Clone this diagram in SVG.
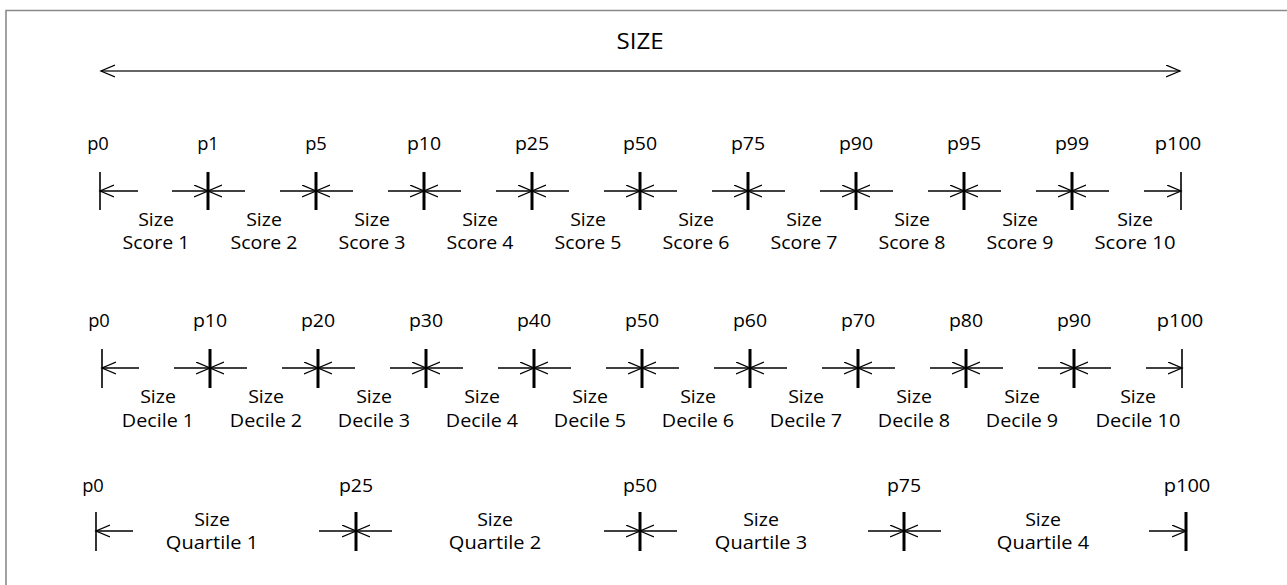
<svg xmlns="http://www.w3.org/2000/svg" width="1287" height="585" viewBox="0 0 1287 585">
<style>
text{font-family:"Open Sans","Liberation Sans",sans-serif;font-size:17.5px;fill:#000;text-anchor:middle}
.title{font-size:21px}
.seg{stroke:#000;stroke-width:1.3;fill:none;marker-end:url(#ah)}
.thin{stroke:#000;stroke-width:1.6}
.thick{stroke:#000;stroke-width:3}
</style>
<defs>
<marker id="ah" markerUnits="userSpaceOnUse" markerWidth="16" markerHeight="14" refX="14" refY="6.5" orient="auto-start-reverse" viewBox="0 0 16 14"><path d="M0,0.5 L14,6.5 L0,12.5" fill="none" stroke="#000" stroke-width="1.3"/></marker>
</defs>
<rect width="1287" height="585" fill="#fff"/>
<path d="M6,585 V10.5 H1287" fill="none" stroke="#8a8a8a" stroke-width="1.6"/>
<g id="title"><text class="title" x="640" y="49" textLength="47" lengthAdjust="spacingAndGlyphs">SIZE</text></g>

<g id="connectors">
<line x1="101" y1="71" x2="1180" y2="71" stroke="#333" stroke-width="1.5" marker-start="url(#ah)" marker-end="url(#ah)"/>
<!-- row 1 -->
<path class="seg" d="M138,191 H100"/>
<path class="seg" d="M172,191 H208"/><path class="seg" d="M245,191 H208"/>
<path class="seg" d="M280,191 H316"/><path class="seg" d="M353,191 H316"/>
<path class="seg" d="M388,191 H424"/><path class="seg" d="M461,191 H424"/>
<path class="seg" d="M496,191 H532"/><path class="seg" d="M569,191 H532"/>
<path class="seg" d="M604,191 H640"/><path class="seg" d="M677,191 H640"/>
<path class="seg" d="M712,191 H748"/><path class="seg" d="M785,191 H748"/>
<path class="seg" d="M820,191 H856"/><path class="seg" d="M893,191 H856"/>
<path class="seg" d="M928,191 H964"/><path class="seg" d="M1001,191 H964"/>
<path class="seg" d="M1036,191 H1072"/><path class="seg" d="M1109,191 H1072"/>
<path class="seg" d="M1144,191 H1181"/>
<!-- row 2 -->
<path class="seg" d="M139,368 H102"/>
<path class="seg" d="M174,368 H210"/><path class="seg" d="M247,368 H210"/>
<path class="seg" d="M282,368 H318"/><path class="seg" d="M355,368 H318"/>
<path class="seg" d="M390,368 H426"/><path class="seg" d="M463,368 H426"/>
<path class="seg" d="M498,368 H534"/><path class="seg" d="M571,368 H534"/>
<path class="seg" d="M606,368 H642"/><path class="seg" d="M679,368 H642"/>
<path class="seg" d="M714,368 H750"/><path class="seg" d="M787,368 H750"/>
<path class="seg" d="M822,368 H858"/><path class="seg" d="M895,368 H858"/>
<path class="seg" d="M930,368 H966"/><path class="seg" d="M1003,368 H966"/>
<path class="seg" d="M1038,368 H1074"/><path class="seg" d="M1111,368 H1074"/>
<path class="seg" d="M1146,368 H1182"/>
<!-- row 3 -->
<path class="seg" d="M133,531 H96"/>
<path class="seg" d="M319,531 H356"/><path class="seg" d="M392,531 H356"/>
<path class="seg" d="M604,531 H640"/><path class="seg" d="M677,531 H640"/>
<path class="seg" d="M868,531 H904"/><path class="seg" d="M941,531 H904"/>
<path class="seg" d="M1149,531 H1186"/>
</g>

<!-- row 1 ticks -->
<g id="r1-p0"><line class="thin" x1="100" y1="172" x2="100" y2="210"/><text x="98" y="150" textLength="21.7" lengthAdjust="spacingAndGlyphs">p0</text></g>
<g id="r1-p1"><line class="thick" x1="208" y1="172" x2="208" y2="210"/><text x="208" y="150" textLength="21.7" lengthAdjust="spacingAndGlyphs">p1</text></g>
<g id="r1-p5"><line class="thick" x1="316" y1="172" x2="316" y2="210"/><text x="316" y="150" textLength="21.7" lengthAdjust="spacingAndGlyphs">p5</text></g>
<g id="r1-p10"><line class="thick" x1="424" y1="172" x2="424" y2="210"/><text x="424" y="150" textLength="34.2" lengthAdjust="spacingAndGlyphs">p10</text></g>
<g id="r1-p25"><line class="thick" x1="532" y1="172" x2="532" y2="210"/><text x="532" y="150" textLength="34.2" lengthAdjust="spacingAndGlyphs">p25</text></g>
<g id="r1-p50"><line class="thick" x1="640" y1="172" x2="640" y2="210"/><text x="640" y="150" textLength="34.2" lengthAdjust="spacingAndGlyphs">p50</text></g>
<g id="r1-p75"><line class="thick" x1="748" y1="172" x2="748" y2="210"/><text x="748" y="150" textLength="34.2" lengthAdjust="spacingAndGlyphs">p75</text></g>
<g id="r1-p90"><line class="thick" x1="856" y1="172" x2="856" y2="210"/><text x="856" y="150" textLength="34.2" lengthAdjust="spacingAndGlyphs">p90</text></g>
<g id="r1-p95"><line class="thick" x1="964" y1="172" x2="964" y2="210"/><text x="964" y="150" textLength="34.2" lengthAdjust="spacingAndGlyphs">p95</text></g>
<g id="r1-p99"><line class="thick" x1="1072" y1="172" x2="1072" y2="210"/><text x="1072" y="150" textLength="34.2" lengthAdjust="spacingAndGlyphs">p99</text></g>
<g id="r1-p100"><line class="thin" x1="1181" y1="172" x2="1181" y2="210"/><text x="1178" y="150" textLength="46.7" lengthAdjust="spacingAndGlyphs">p100</text></g>

<!-- row 1 labels -->
<g id="score1"><text x="156" y="226" textLength="35.7" lengthAdjust="spacingAndGlyphs">Size</text><text x="156" y="249" textLength="67" lengthAdjust="spacingAndGlyphs">Score 1</text></g>
<g id="score2"><text x="264" y="226" textLength="35.7" lengthAdjust="spacingAndGlyphs">Size</text><text x="264" y="249" textLength="67" lengthAdjust="spacingAndGlyphs">Score 2</text></g>
<g id="score3"><text x="372" y="226" textLength="35.7" lengthAdjust="spacingAndGlyphs">Size</text><text x="372" y="249" textLength="67" lengthAdjust="spacingAndGlyphs">Score 3</text></g>
<g id="score4"><text x="480" y="226" textLength="35.7" lengthAdjust="spacingAndGlyphs">Size</text><text x="480" y="249" textLength="67" lengthAdjust="spacingAndGlyphs">Score 4</text></g>
<g id="score5"><text x="588" y="226" textLength="35.7" lengthAdjust="spacingAndGlyphs">Size</text><text x="588" y="249" textLength="67" lengthAdjust="spacingAndGlyphs">Score 5</text></g>
<g id="score6"><text x="696" y="226" textLength="35.7" lengthAdjust="spacingAndGlyphs">Size</text><text x="696" y="249" textLength="67" lengthAdjust="spacingAndGlyphs">Score 6</text></g>
<g id="score7"><text x="804" y="226" textLength="35.7" lengthAdjust="spacingAndGlyphs">Size</text><text x="804" y="249" textLength="67" lengthAdjust="spacingAndGlyphs">Score 7</text></g>
<g id="score8"><text x="912" y="226" textLength="35.7" lengthAdjust="spacingAndGlyphs">Size</text><text x="912" y="249" textLength="67" lengthAdjust="spacingAndGlyphs">Score 8</text></g>
<g id="score9"><text x="1020" y="226" textLength="35.7" lengthAdjust="spacingAndGlyphs">Size</text><text x="1020" y="249" textLength="67" lengthAdjust="spacingAndGlyphs">Score 9</text></g>
<g id="score10"><text x="1135" y="226" textLength="35.7" lengthAdjust="spacingAndGlyphs">Size</text><text x="1135" y="249" textLength="81" lengthAdjust="spacingAndGlyphs">Score 10</text></g>

<!-- row 2 ticks -->
<g id="r2-p0"><line class="thin" x1="102" y1="349" x2="102" y2="388"/><text x="99" y="327" textLength="21.7" lengthAdjust="spacingAndGlyphs">p0</text></g>
<g id="r2-p10"><line class="thick" x1="210" y1="349" x2="210" y2="388"/><text x="210" y="327" textLength="34.2" lengthAdjust="spacingAndGlyphs">p10</text></g>
<g id="r2-p20"><line class="thick" x1="318" y1="349" x2="318" y2="388"/><text x="318" y="327" textLength="34.2" lengthAdjust="spacingAndGlyphs">p20</text></g>
<g id="r2-p30"><line class="thick" x1="426" y1="349" x2="426" y2="388"/><text x="426" y="327" textLength="34.2" lengthAdjust="spacingAndGlyphs">p30</text></g>
<g id="r2-p40"><line class="thick" x1="534" y1="349" x2="534" y2="388"/><text x="534" y="327" textLength="34.2" lengthAdjust="spacingAndGlyphs">p40</text></g>
<g id="r2-p50"><line class="thick" x1="642" y1="349" x2="642" y2="388"/><text x="642" y="327" textLength="34.2" lengthAdjust="spacingAndGlyphs">p50</text></g>
<g id="r2-p60"><line class="thick" x1="750" y1="349" x2="750" y2="388"/><text x="750" y="327" textLength="34.2" lengthAdjust="spacingAndGlyphs">p60</text></g>
<g id="r2-p70"><line class="thick" x1="858" y1="349" x2="858" y2="388"/><text x="858" y="327" textLength="34.2" lengthAdjust="spacingAndGlyphs">p70</text></g>
<g id="r2-p80"><line class="thick" x1="966" y1="349" x2="966" y2="388"/><text x="966" y="327" textLength="34.2" lengthAdjust="spacingAndGlyphs">p80</text></g>
<g id="r2-p90"><line class="thick" x1="1074" y1="349" x2="1074" y2="388"/><text x="1074" y="327" textLength="34.2" lengthAdjust="spacingAndGlyphs">p90</text></g>
<g id="r2-p100"><line class="thin" x1="1182" y1="349" x2="1182" y2="388"/><text x="1180" y="327" textLength="46.7" lengthAdjust="spacingAndGlyphs">p100</text></g>

<!-- row 2 labels -->
<g id="decile1"><text x="158" y="403" textLength="35.7" lengthAdjust="spacingAndGlyphs">Size</text><text x="158" y="427" textLength="72.3" lengthAdjust="spacingAndGlyphs">Decile 1</text></g>
<g id="decile2"><text x="266" y="403" textLength="35.7" lengthAdjust="spacingAndGlyphs">Size</text><text x="266" y="427" textLength="72.3" lengthAdjust="spacingAndGlyphs">Decile 2</text></g>
<g id="decile3"><text x="374" y="403" textLength="35.7" lengthAdjust="spacingAndGlyphs">Size</text><text x="374" y="427" textLength="72.3" lengthAdjust="spacingAndGlyphs">Decile 3</text></g>
<g id="decile4"><text x="482" y="403" textLength="35.7" lengthAdjust="spacingAndGlyphs">Size</text><text x="482" y="427" textLength="72.3" lengthAdjust="spacingAndGlyphs">Decile 4</text></g>
<g id="decile5"><text x="590" y="403" textLength="35.7" lengthAdjust="spacingAndGlyphs">Size</text><text x="590" y="427" textLength="72.3" lengthAdjust="spacingAndGlyphs">Decile 5</text></g>
<g id="decile6"><text x="698" y="403" textLength="35.7" lengthAdjust="spacingAndGlyphs">Size</text><text x="698" y="427" textLength="72.3" lengthAdjust="spacingAndGlyphs">Decile 6</text></g>
<g id="decile7"><text x="806" y="403" textLength="35.7" lengthAdjust="spacingAndGlyphs">Size</text><text x="806" y="427" textLength="72.3" lengthAdjust="spacingAndGlyphs">Decile 7</text></g>
<g id="decile8"><text x="914" y="403" textLength="35.7" lengthAdjust="spacingAndGlyphs">Size</text><text x="914" y="427" textLength="72.3" lengthAdjust="spacingAndGlyphs">Decile 8</text></g>
<g id="decile9"><text x="1022" y="403" textLength="35.7" lengthAdjust="spacingAndGlyphs">Size</text><text x="1022" y="427" textLength="72.3" lengthAdjust="spacingAndGlyphs">Decile 9</text></g>
<g id="decile10"><text x="1138" y="403" textLength="35.7" lengthAdjust="spacingAndGlyphs">Size</text><text x="1138" y="427" textLength="84.8" lengthAdjust="spacingAndGlyphs">Decile 10</text></g>

<!-- row 3 ticks -->
<g id="r3-p0"><line class="thin" x1="96" y1="512" x2="96" y2="551"/><text x="93" y="492" textLength="21.7" lengthAdjust="spacingAndGlyphs">p0</text></g>
<g id="r3-p25"><line class="thick" x1="356" y1="512" x2="356" y2="551"/><text x="356" y="492" textLength="34.2" lengthAdjust="spacingAndGlyphs">p25</text></g>
<g id="r3-p50"><line class="thick" x1="640" y1="512" x2="640" y2="551"/><text x="640" y="492" textLength="34.2" lengthAdjust="spacingAndGlyphs">p50</text></g>
<g id="r3-p75"><line class="thick" x1="904" y1="512" x2="904" y2="551"/><text x="904" y="492" textLength="34.2" lengthAdjust="spacingAndGlyphs">p75</text></g>
<g id="r3-p100"><line class="thick" x1="1186" y1="512" x2="1186" y2="551"/><text x="1187" y="492" textLength="46.7" lengthAdjust="spacingAndGlyphs">p100</text></g>

<!-- row 3 labels -->
<g id="quartile1"><text x="212" y="526" textLength="35.7" lengthAdjust="spacingAndGlyphs">Size</text><text x="212" y="549" textLength="92.3" lengthAdjust="spacingAndGlyphs">Quartile 1</text></g>
<g id="quartile2"><text x="495" y="526" textLength="35.7" lengthAdjust="spacingAndGlyphs">Size</text><text x="495" y="549" textLength="92.3" lengthAdjust="spacingAndGlyphs">Quartile 2</text></g>
<g id="quartile3"><text x="761" y="526" textLength="35.7" lengthAdjust="spacingAndGlyphs">Size</text><text x="761" y="549" textLength="92.3" lengthAdjust="spacingAndGlyphs">Quartile 3</text></g>
<g id="quartile4"><text x="1043" y="526" textLength="35.7" lengthAdjust="spacingAndGlyphs">Size</text><text x="1043" y="549" textLength="92.3" lengthAdjust="spacingAndGlyphs">Quartile 4</text></g>
</svg>
